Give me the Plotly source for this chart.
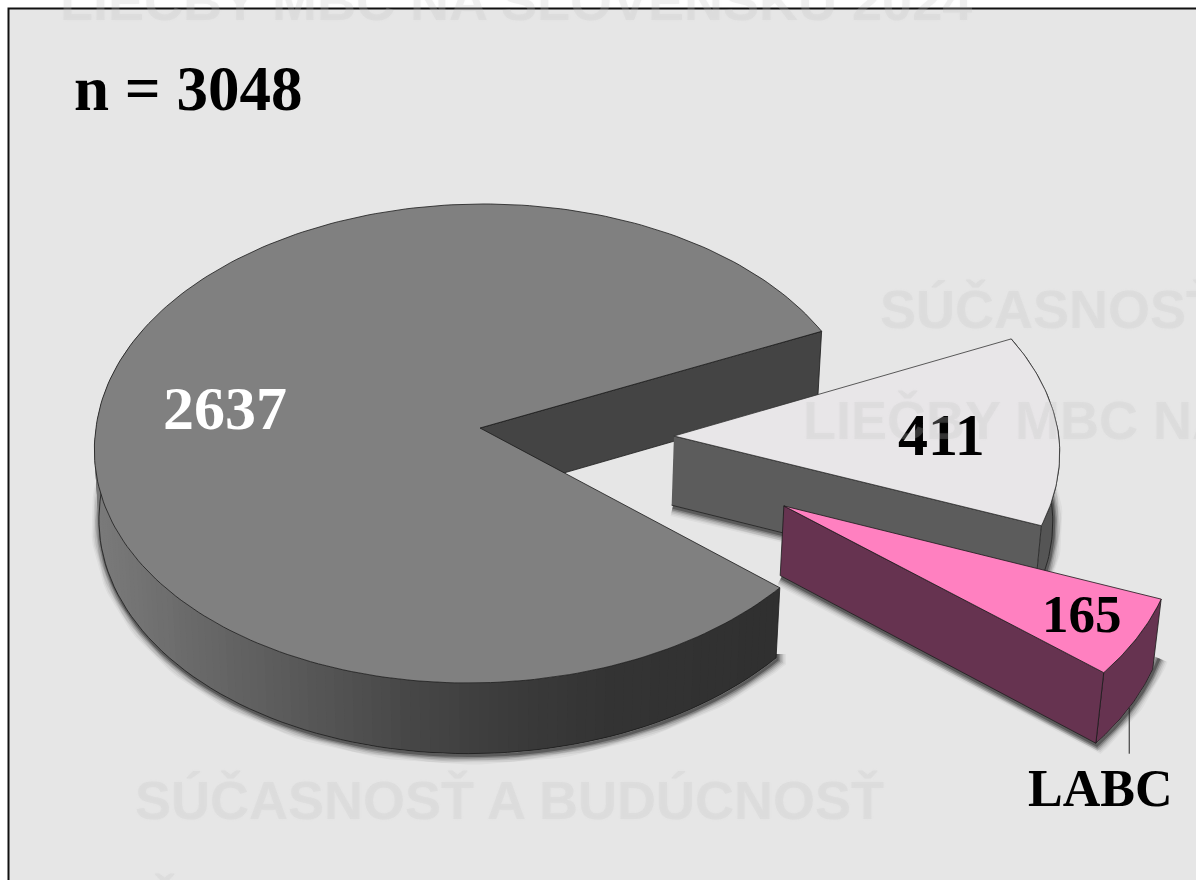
import numpy as np
import plotly.graph_objects as go

# --- data ---
slice_names = ["2637", "411", "LABC"]
slice_values = [2637, 411, 165]
slice_labels = ["2637", "411", "165"]
total_label = "n = 3048"
callout_label = "LABC"
watermark_a = "LIEČBY MBC NA SLOVENSKU 2024"
watermark_b = "SÚČASNOSŤ A BUDÚCNOSŤ"

# --- style / projection constants ---
W, H = 1196, 880
top_colors = ["#808080", "#e8e6e8", "#ff80c0"]
cut_colors = ["#444444", "#5c5c5c", "#663350"]
LINE = "#1a1a1a"
APEX = (480, 428)
A, B, K, C, DEPTH = 384, 238.5, 0.0646, 0.012, 70
SKEW_NEAR, SKEW_FAR = 11 / 384, 4 / 384
explode = [(0.0, 0.0), (0.504, 0.0335), (0.775, 0.32)]
FIRST_ANGLE = -24.6  # start of the 411 slice


def proj(X, Y, bottom=False):
    X, Y = np.asarray(X, float), np.asarray(Y, float)
    w = 1 - K * Y + (C if bottom else 0)
    z = DEPTH if bottom else 0
    return APEX[0] + A * X / w, APEX[1] + (B * Y + z) / w


def disc(theta, off):
    t = np.radians(theta)
    s, c = np.sin(t), np.cos(t)
    skew = np.where(s > 0, SKEW_NEAR, SKEW_FAR) * s
    return off[0] + c - skew, off[1] + s


# sweep from the values: 411, then 165, then 2637
tot = sum(slice_values)
sw = [v / tot * 360 for v in slice_values]
w0, w1 = FIRST_ANGLE, FIRST_ANGLE + sw[1]
p0, p1 = w1, w1 + sw[2]
m0, m1 = p1, p1 + sw[0]

fig = go.Figure()


def poly(xs, ys, fill=None, line=LINE, lw=0.8):
    fig.add_trace(go.Scatter(
        x=list(xs), y=list(ys), mode="lines",
        fill="toself" if fill else "none", fillcolor=fill,
        line=dict(color=line if lw else "rgba(0,0,0,0)", width=lw),
        hoverinfo="skip", showlegend=False))


def arc(a, b, off, bottom=False, n=90):
    th = np.linspace(a, b, n)
    X, Y = disc(th, off)
    return proj(X, Y, bottom)


def apex(off, bottom=False):
    x, y = proj([off[0]], [off[1]], bottom)
    return x, y


def shadow(xs, ys):
    xs, ys = np.asarray(xs) + 1, np.asarray(ys) + 2
    for width, alpha in [(18, 0.04), (15, 0.06), (12, 0.09), (9, 0.13), (6, 0.2), (3, 0.3)]:
        poly(xs, ys, None, "rgba(0,0,0,%g)" % alpha, width)


# shadows
mx, my = arc(m0, 200, explode[0], True)
shadow(np.r_[mx[0], mx], np.r_[my[0] - 6, my])
ax, ay = apex(explode[1], True)
wx, wy = arc(w1, -8, explode[1], True, 40)
shadow(np.r_[ax, wx], np.r_[ay, wy])
ax, ay = apex(explode[2], True)
px, py = arc(p1, p0 - 3, explode[2], True, 40)
shadow(np.r_[ax, px], np.r_[ay, py])

# main slice: cut face, gradient rim, top
off = explode[0]
ax, ay = apex(off)
bx, by = apex(off, True)
tx, ty = arc(m1, m1, off, False, 1)
ux, uy = arc(m1, m1, off, True, 1)
poly(np.r_[ax, tx, ux, bx], np.r_[ay, ty, uy, by], cut_colors[0])

rim_x = [100, 200, 300, 400, 500, 600, 780]
rim_v = [122, 104, 88, 72, 60, 52, 48]
angles = np.linspace(m0, 205, 120)
for i in range(len(angles) - 1):
    a, b = angles[i], angles[min(i + 2, len(angles) - 1)]
    tx, ty = arc(a, b, off, False, 3)
    ux, uy = arc(a, b, off, True, 3)
    v = int(np.interp(tx[1], rim_x, rim_v))
    poly(np.r_[tx, ux[::-1]], np.r_[ty, uy[::-1]], "rgb(%d,%d,%d)" % (v, v, v), lw=0)
tx, ty = arc(m0, 205, off, False)
ux, uy = arc(m0, 205, off, True)
poly(np.r_[tx[0], ux], np.r_[ty[0], uy])
tx, ty = arc(m0, m1, off, False, 240)
poly(np.r_[ax, tx, ax], np.r_[ay, ty, ay], top_colors[0])

# 411 slice
off = explode[1]
ax, ay = apex(off)
bx, by = apex(off, True)
tx, ty = arc(w1, w0, off, False, 60)
ux, uy = arc(w1, w0, off, True, 60)
poly(np.r_[tx, ux[::-1]], np.r_[ty, uy[::-1]], "#555555")
poly(np.r_[ax, tx[0], ux[0], bx], np.r_[ay, ty[0], uy[0], by], cut_colors[1])
poly(np.r_[ax, tx, ax], np.r_[ay, ty, ay], top_colors[1], "#333333", 0.8)

# 165 slice
off = explode[2]
ax, ay = apex(off)
bx, by = apex(off, True)
tx, ty = arc(p1, p0, off, False, 40)
ux, uy = arc(p1, p0, off, True, 40)
poly(np.r_[tx, ux[::-1], tx[0]], np.r_[ty, uy[::-1], ty[0]], cut_colors[2])
poly(np.r_[ax, tx[0], ux[0], bx, ax], np.r_[ay, ty[0], uy[0], by, ay], cut_colors[2])
poly(np.r_[ax, tx, ax], np.r_[ay, ty, ay], top_colors[2])

# LABC leader
la = p0 + sw[2] * 0.5
lx, ly = arc(la, la, off, True, 1)
poly([lx[0], lx[0]], [ly[0], ly[0] + 46], None, "#222222", 1)


def label(text, x, y, size, color="#000000", font="Liberation Serif", bold=True, anchor="center", yanchor="middle", shadow=None):
    f = dict(family=font, size=size, color=color, weight="bold" if bold else "normal")
    if shadow:
        f["shadow"] = shadow
    fig.add_annotation(x=x, y=y, text=text, showarrow=False, xanchor=anchor, yanchor=yanchor,
                       font=f, borderpad=0, borderwidth=0)


label(total_label, 188, 89, 63)
label(slice_labels[0], 225, 408, 62, "#ffffff")
label(slice_labels[1], 941, 435, 60)
label(slice_labels[2], 1082, 614, 53)
label(callout_label, 1100, 788, 52)

wm = "rgba(195,195,195,0.22)"
wms = "0 0 3px rgba(200,200,200,0.3)"
wf = "Liberation Sans"
label(watermark_a, 60, 31, 54, wm, wf, True, "left", "bottom", wms)
label(watermark_b, 135, 800, 54, wm, wf, True, "left", "middle", wms)
label("SÚČASNOSŤ", 880, 309, 54, wm, wf, True, "left", "middle", wms)
label("LIEČBY MBC NA", 803, 420, 54, wm, wf, True, "left", "middle", wms)
label(watermark_a, 60, 873, 54, wm, wf, True, "left", "top", wms)

fig.add_shape(type="rect", x0=8.5, y0=8.5, x1=W + 10, y1=H + 10, layer="below",
              fillcolor="#e6e6e6", line=dict(color="#111111", width=2))

fig.update_layout(
    width=W, height=H, margin=dict(l=0, r=0, t=0, b=0, pad=0),
    paper_bgcolor="#ffffff", plot_bgcolor="rgba(0,0,0,0)", showlegend=False,
    xaxis=dict(range=[0, W], visible=False, fixedrange=True),
    yaxis=dict(range=[H, 0], visible=False, fixedrange=True),
)
fig.write_html("out.html", config=dict(displayModeBar=False),
               post_script="document.body.style.margin='0';document.documentElement.style.overflow='hidden';")
